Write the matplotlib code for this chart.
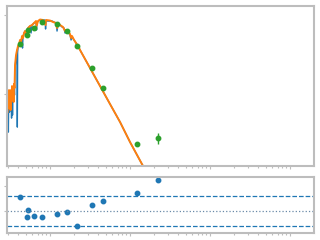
import numpy as np
import matplotlib
matplotlib.use('Agg')
import matplotlib.pyplot as plt
from matplotlib.ticker import NullLocator, FixedLocator

# observed spectrum: log10 wavelength (micron), log10 lambda*F_lambda
spec_logwave = [-0.5275, -0.525, -0.521, -0.5175, -0.5125, -0.506, -0.500, -0.494, -0.4875,
                -0.481, -0.475, -0.469, -0.4625, -0.456, -0.450, -0.444,
                -0.4375, -0.425, -0.419, -0.4125, -0.409, -0.405, -0.400, -0.3875, -0.375,
                -0.3625, -0.350, -0.344, -0.3375, -0.325, -0.3125, -0.300, -0.2875, -0.275,
                -0.250, -0.2375, -0.225, -0.200, -0.175, -0.169, -0.1625, -0.125, -0.100,
                -0.0625, -0.056, -0.050, 0.000, 0.025, 0.050, 0.075, 0.0875, 0.100, 0.125,
                0.150, 0.175, 0.1875, 0.200, 0.225, 0.250, 0.2625, 0.275, 0.300, 0.325,
                0.3375, 0.350, 0.375, 0.4375, 0.500, 0.625, 0.750, 0.875, 1.000, 1.1625, 1.250]
spec_logflux = [-10.392, -10.076, -10.481, -10.139, -10.013, -10.228, -9.975, -10.177, -10.025,
                -10.304, -9.949, -10.266, -9.975, -10.076, -9.886, -10.013,
                -9.671, -9.544, -9.570, -9.443, -10.418, -9.468, -9.418, -9.380, -9.342,
                -9.316, -9.291, -9.418, -9.266, -9.228, -9.203, -9.266, -9.190, -9.165,
                -9.139, -9.228, -9.127, -9.101, -9.089, -9.190, -9.089, -9.063, -9.063,
                -9.063, -9.177, -9.076, -9.076, -9.076, -9.089, -9.101, -9.203, -9.114, -9.127,
                -9.152, -9.165, -9.228, -9.190, -9.215, -9.253, -9.316, -9.278, -9.316, -9.354,
                -9.418, -9.392, -9.443, -9.557, -9.671, -9.899, -10.127, -10.354, -10.608, -10.911, -11.089]

# model spectrum
model_logwave = [-0.531, -0.525, -0.519, -0.5125, -0.506, -0.500, -0.494, -0.4875, -0.481,
                 -0.475, -0.469, -0.4625, -0.456, -0.450, -0.444, -0.4375,
                 -0.425, -0.4125, -0.400, -0.3875, -0.375, -0.3625, -0.350, -0.3375, -0.325,
                 -0.3125, -0.300, -0.275, -0.250, -0.225, -0.200, -0.175, -0.169, -0.150, -0.125,
                 -0.0875, -0.056, -0.050, 0.000, 0.0375, 0.075, 0.0875, 0.100, 0.125, 0.1625,
                 0.1875, 0.200, 0.250, 0.2625, 0.275, 0.300,
                 0.350, 0.375, 0.500, 0.625, 0.750, 0.875, 1.000, 1.1625, 1.250]
model_logflux = [-10.228, -10.013, -10.177, -9.949, -10.127, -9.987, -10.203, -9.949, -10.076,
                 -9.899, -10.051, -9.949, -10.101, -9.873, -9.924, -9.633,
                 -9.506, -9.443, -9.392, -9.367, -9.316, -9.342, -9.266, -9.291, -9.228,
                 -9.203, -9.228, -9.165, -9.139, -9.127, -9.101, -9.076, -9.139, -9.076, -9.057,
                 -9.063, -9.127, -9.063, -9.070, -9.089, -9.101, -9.165, -9.108, -9.127, -9.152,
                 -9.203, -9.190, -9.241, -9.291, -9.266, -9.316,
                 -9.392, -9.443, -9.671, -9.899, -10.127, -10.354, -10.608, -10.911, -11.089]

# photometry
phot_logwave = [-0.375, -0.2875, -0.275, -0.200, -0.100, 0.0875, 0.2125, 0.3375, 0.525, 0.6625, 1.0875, 1.35]
phot_logflux = [-9.367, -9.253, -9.190, -9.165, -9.089, -9.114, -9.203, -9.392, -9.671, -9.924, -10.633, -10.557]
phot_err_frac = [0.02, 0.02, 0.02, 0.02, 0.02, 0.02, 0.02, 0.02, 0.02, 0.02, 0.06, 0.17]

# residuals (sigma)
resid = [2.8, -1.2, 0.2, -1.0, -1.2, -0.6, -0.2, -3.0, 1.2, 2.0, 3.6, 6.2]

spine_col = '#bdbdbd'

wave = 10 ** np.array(spec_logwave)
flux = 10 ** np.array(spec_logflux)
mwave = 10 ** np.array(model_logwave)
mflux = 10 ** np.array(model_logflux)
pwave = 10 ** np.array(phot_logwave)
pflux = 10 ** np.array(phot_logflux)
perr = pflux * np.array(phot_err_frac)

fig = plt.figure(figsize=(3.2, 2.4), dpi=100)
ax = fig.add_axes([0.022, 0.308, 0.958, 0.669])
axr = fig.add_axes([0.022, 0.029, 0.958, 0.233])

ax.plot(wave, flux, color='C0', lw=1.0)
ax.plot(mwave, mflux, color='C1', lw=1.4)
ax.errorbar(pwave, pflux, yerr=perr, fmt='o', color='C2', ms=3.2, elinewidth=1, capsize=0)
ax.set_xscale('log')
ax.set_yscale('log')
xlim = (10 ** -0.5375, 10 ** 3.294)
ax.set_xlim(xlim)
ax.set_ylim(10 ** -10.911, 10 ** -8.880)
ax.yaxis.set_minor_locator(NullLocator())

axr.plot(pwave, resid, 'o', color='C0', ms=3.2)
axr.axhline(3, color='C0', ls='--', lw=0.9)
axr.axhline(-3, color='C0', ls='--', lw=0.9)
axr.axhline(0, color='#6a8aa8', ls=':', lw=0.9)
axr.set_xscale('log')
axr.set_xlim(xlim)
axr.set_ylim(-4.4, 6.8)
axr.yaxis.set_major_locator(FixedLocator([0, 5]))

for a in (ax, axr):
    for s in a.spines.values():
        s.set_color(spine_col)
        s.set_linewidth(1.5)
    a.tick_params(which='both', labelleft=False, labelbottom=False, colors=spine_col, width=0.8)
    a.tick_params(which='major', length=2.5)
    a.tick_params(which='minor', length=1.5)

fig.savefig('out.png', dpi=100)
